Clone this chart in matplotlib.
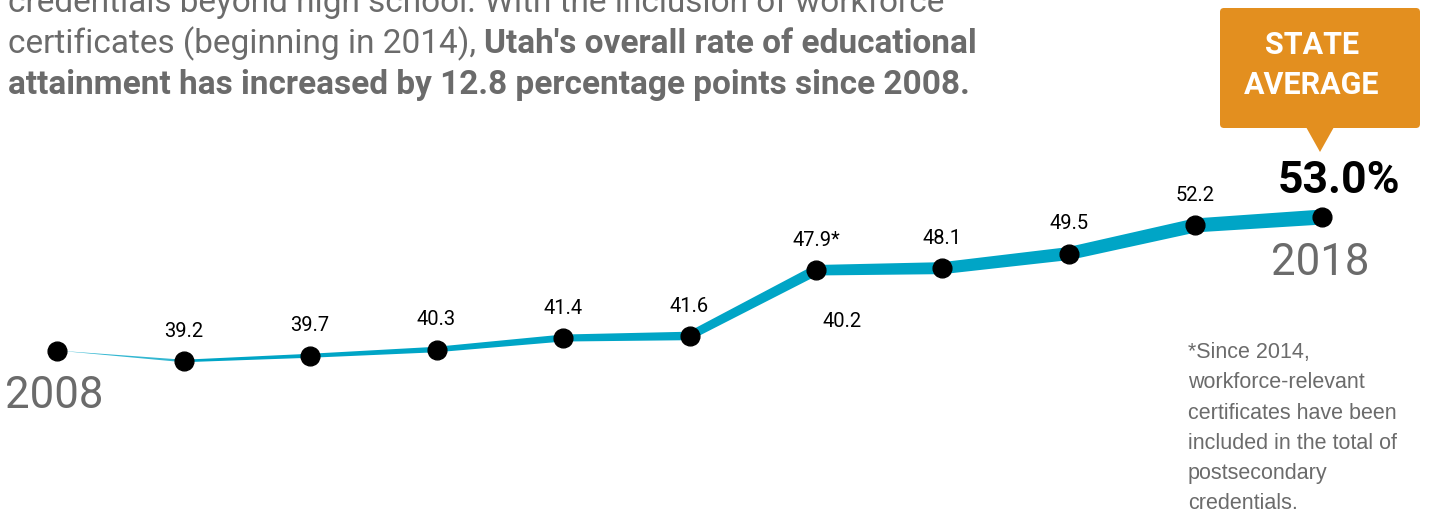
import matplotlib
matplotlib.use('Agg')
import matplotlib.pyplot as plt
from matplotlib.patches import Polygon, FancyBboxPatch
from matplotlib.transforms import IdentityTransform
import numpy as np

# ---------------- data ----------------
years = [2008, 2009, 2010, 2011, 2012, 2013, 2014, 2015, 2016, 2017, 2018]
values = [40.2, 39.2, 39.7, 40.3, 41.4, 41.6, 47.9, 48.1, 49.5, 52.2, 53.0]
point_labels = ['', '39.2', '39.7', '40.3', '41.4', '41.6', '47.9*', '48.1', '49.5', '52.2', '']
final_label = '53.0%'
start_year_label = '2008'
end_year_label = '2018'
note_year = 2014
note_label = '40.2'
callout_text = 'STATE\nAVERAGE'
footnote = ('*Since 2014,\nworkforce-relevant\ncertificates have been\n'
            'included in the total of\npostsecondary\ncredentials.')
intro_line1 = 'credentials beyond high school. With the inclusion of workforce'
intro_line2_normal = 'certificates (beginning in 2014), '
intro_line2_bold = "Utah's overall rate of educational"
intro_line3_bold = 'attainment has increased by 12.8 percentage points since 2008.'

# ---------------- style ----------------
W, H, DPI = 1432, 512, 100
LINE_COLOR = '#00A5C6'
GRAY = '#6b6b6b'
ORANGE = '#E38F1F'
FONT = 'Roboto'
line_widths_px = [0, 2.5, 4, 5.5, 7, 8.5, 10.5, 12, 13, 14, 15]

fig = plt.figure(figsize=(W / DPI, H / DPI), dpi=DPI)
ax = fig.add_axes([0, 0, 1, 1])
ax.set_xlim(2007.549, 2018.870)
ax.set_ylim(24.72, 73.81)
ax.axis('off')

# tapered line built in pixel space
disp = ax.transData.transform(np.column_stack([years, values]))
inv = ax.transData.inverted()
for i in range(len(years) - 1):
    p0, p1 = disp[i], disp[i + 1]
    d = (p1 - p0) / np.linalg.norm(p1 - p0)
    n = np.array([-d[1], d[0]])
    w0, w1 = line_widths_px[i] / 2, line_widths_px[i + 1] / 2
    quad = np.array([p0 + n * w0, p1 + n * w1, p1 - n * w1, p0 - n * w0])
    ax.add_patch(Polygon(inv.transform(quad), closed=True, facecolor=LINE_COLOR,
                         edgecolor='none', zorder=2,
                         alpha=1.0 if i > 0 else 0.8))

ax.plot(years, values, linestyle='none', marker='o', markersize=13.5,
        color='black', zorder=3)

for x, y, lab in zip(years, values, point_labels):
    if lab:
        ax.annotate(lab, (x, y), xytext=(0, 21.5), textcoords='offset points',
                    ha='center', va='center', fontsize=14.5, family=FONT,
                    color='black')

# extra value label below 2014
ax.annotate(note_label, (note_year, values[years.index(note_year)]),
            xytext=(19, -37), textcoords='offset points', ha='center',
            va='center', fontsize=14.5, family=FONT, color='black')

# final value
ax.annotate(final_label, (years[-1], values[-1]), xytext=(12, 26),
            textcoords='offset points', ha='center', va='center',
            fontsize=32, fontweight='bold', family=FONT, color='black')

# year labels
ax.annotate(start_year_label, (years[0], values[0]), xytext=(-2, -33),
            textcoords='offset points', ha='center', va='center',
            fontsize=31.5, family=FONT, color=GRAY)
ax.annotate(end_year_label, (years[-1], values[-1]), xytext=(-1, -33),
            textcoords='offset points', ha='center', va='center',
            fontsize=31.5, family=FONT, color=GRAY)

# callout box (pixel coordinates, top-left origin converted)
def P(x, y):
    return (x, H - y)

box_l, box_t, box_r, box_b = 1220, 8, 1420, 128
box = FancyBboxPatch(P(box_l, box_b), box_r - box_l, box_b - box_t,
                     boxstyle='round,pad=0,rounding_size=4',
                     transform=IdentityTransform(), facecolor=ORANGE,
                     edgecolor='none', zorder=4)
fig.patches.append(box)
tri = Polygon([P(1306, 127), P(1334, 127), P(1320, 152)], closed=True,
              transform=IdentityTransform(), facecolor=ORANGE,
              edgecolor='none', zorder=4)
fig.patches.append(tri)
fig.text(1312 / W, 1 - 65 / H, callout_text, ha='center', va='center',
         fontsize=22, fontweight='bold', family=FONT, color='white',
         linespacing=1.42, zorder=5)

# footnote
fig.text(1188 / W, 1 - 342 / H, footnote, ha='left', va='top', fontsize=15.5,
         family='Liberation Sans', color=GRAY, linespacing=1.58)

# intro text
FS_INTRO = 24
fig.text(8 / W, 1 - 3 / H, intro_line1, ha='left', va='center', fontsize=FS_INTRO,
         family=FONT, color=GRAY)
t2 = fig.text(8 / W, 1 - 44 / H, intro_line2_normal, ha='left', va='center',
              fontsize=FS_INTRO, family=FONT, color=GRAY)
fig.canvas.draw()
r = fig.canvas.get_renderer()
bb = t2.get_window_extent(r)
fig.text(bb.x1 / W, 1 - 44 / H, intro_line2_bold, ha='left', va='center',
         fontsize=FS_INTRO, fontweight='bold', family=FONT, color=GRAY)
fig.text(8 / W, 1 - 85 / H, intro_line3_bold, ha='left', va='center',
         fontsize=FS_INTRO, fontweight='bold', family=FONT, color=GRAY)

fig.savefig('out.png', dpi=DPI)
